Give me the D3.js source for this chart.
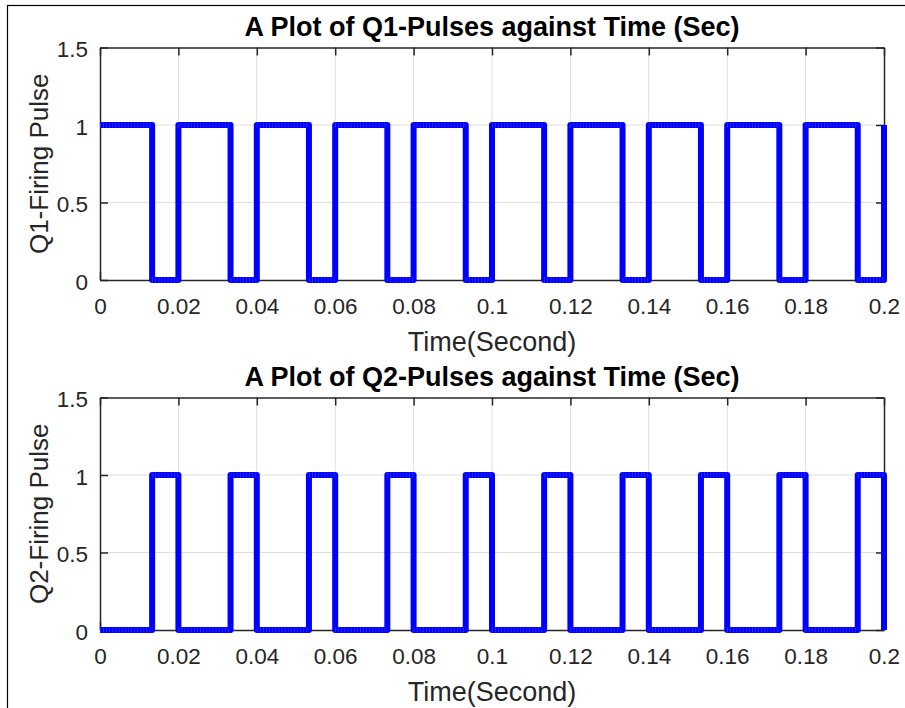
<!DOCTYPE html>
<html><head><meta charset="utf-8">
<script src="https://cdn.jsdelivr.net/npm/d3@7"></script>
<style>body{margin:0;background:#fff}svg{display:block}</style>
</head><body>
<svg id="c" width="905" height="708"></svg>
<script>
// ---- data ----
const edgeTimes = [0, 0.0133, 0.02, 0.0333, 0.04, 0.0533, 0.06, 0.0733, 0.08, 0.0933, 0.1,
                   0.1133, 0.12, 0.1333, 0.14, 0.1533, 0.16, 0.1733, 0.18, 0.1933, 0.2];
const q1Values = [1, 0, 1, 0, 1, 0, 1, 0, 1, 0, 1, 0, 1, 0, 1, 0, 1, 0, 1, 0, 1];
const q2Values = [0, 1, 0, 1, 0, 1, 0, 1, 0, 1, 0, 1, 0, 1, 0, 1, 0, 1, 0, 1, 0];
const xTicks = [0, 0.02, 0.04, 0.06, 0.08, 0.1, 0.12, 0.14, 0.16, 0.18, 0.2];
const xTickLabels = ["0", "0.02", "0.04", "0.06", "0.08", "0.1", "0.12", "0.14", "0.16", "0.18", "0.2"];
const yTicks = [0, 0.5, 1, 1.5];
const yTickLabels = ["0", "0.5", "1", "1.5"];
const panelTitles = ["A Plot of Q1-Pulses against Time (Sec)", "A Plot of Q2-Pulses against Time (Sec)"];
const panelYLabels = ["Q1-Firing Pulse", "Q2-Firing Pulse"];
const xLabelText = "Time(Second)";
const seriesValues = [q1Values, q2Values];

// ---- drawing ----
const svg = d3.select("#c");
const FONT = "'Liberation Sans', Arial, sans-serif";
const axisColor = "#262626";

// outer frame
svg.append("rect").attr("x", 7.5).attr("y", 5.5).attr("width", 1000).attr("height", 1000)
  .attr("fill", "#fff").attr("stroke", "#000").attr("stroke-width", 1.2);

const left = 100, right = 884;
const panels = [{top: 47.5, bottom: 280}, {top: 397.5, bottom: 630}];

panels.forEach((p, k) => {
  const x = d3.scaleLinear().domain([0, 0.2]).range([left, right]);
  const y = d3.scaleLinear().domain([0, 1.5]).range([p.bottom, p.top]);
  const g = svg.append("g");

  // grid
  g.append("g").selectAll("line").data(xTicks.slice(1, -1)).join("line")
    .attr("x1", d => x(d)).attr("x2", d => x(d)).attr("y1", p.top).attr("y2", p.bottom)
    .attr("stroke", "#dfdfdf").attr("stroke-width", 1);
  g.append("g").selectAll("line").data(yTicks.slice(1, -1)).join("line")
    .attr("y1", d => y(d)).attr("y2", d => y(d)).attr("x1", left).attr("x2", right)
    .attr("stroke", "#dfdfdf").attr("stroke-width", 1);

  // axes
  const fmtX = (d) => xTickLabels[xTicks.indexOf(d)];
  const fmtY = (d) => yTickLabels[yTicks.indexOf(d)];
  const styleAxis = sel => {
    sel.selectAll(".domain").attr("stroke", axisColor).attr("stroke-width", 1.5);
    sel.selectAll(".tick line").attr("stroke", axisColor).attr("stroke-width", 1.5);
    sel.selectAll(".tick text").attr("fill", axisColor).style("font-family", FONT).style("font-size", "22.5px");
  };
  g.append("g").attr("transform", `translate(0,${p.bottom})`)
    .call(d3.axisBottom(x).tickValues(xTicks).tickFormat(fmtX).tickSizeInner(-8).tickSizeOuter(0).tickPadding(18))
    .call(styleAxis);
  g.append("g").attr("transform", `translate(0,${p.top})`)
    .call(d3.axisTop(x).tickValues(xTicks).tickFormat("").tickSizeInner(-8).tickSizeOuter(0))
    .call(styleAxis);
  g.append("g").attr("transform", `translate(${left},0)`)
    .call(d3.axisLeft(y).tickValues(yTicks).tickFormat(fmtY).tickSizeInner(-8).tickSizeOuter(0).tickPadding(12))
    .call(styleAxis)
    .selectAll(".tick text").attr("dy", "0.42em");
  g.append("g").attr("transform", `translate(${right},0)`)
    .call(d3.axisRight(y).tickValues(yTicks).tickFormat("").tickSizeInner(-8).tickSizeOuter(0))
    .call(styleAxis);

  // series line
  const pts = edgeTimes.map((t, i) => [t, seriesValues[k][i]]);
  const line = d3.line().x(d => x(d[0])).y(d => y(d[1])).curve(d3.curveStepAfter);
  g.append("path").datum(pts).attr("d", line)
    .attr("fill", "none").attr("stroke", "#0000ff").attr("stroke-width", 6)
    .attr("stroke-linejoin", "round").attr("stroke-linecap", "butt");
  // marker texture on horizontal runs
  const runs = pts.slice(0, -1).map((d, i) => [d, [pts[i + 1][0], d[1]]]);
  g.append("g").selectAll("line").data(runs).join("line")
    .attr("x1", d => x(d[0][0])).attr("x2", d => x(d[1][0]))
    .attr("y1", d => y(d[0][1])).attr("y2", d => y(d[1][1]))
    .attr("stroke", "#3030ff").attr("stroke-width", 5).attr("stroke-dasharray", "0.8 2.3");

  // title
  g.append("text").attr("x", (left + right) / 2).attr("y", p.top - 12)
    .attr("text-anchor", "middle").style("font-family", FONT).style("font-size", "27px")
    .style("font-weight", "bold").attr("fill", "#000").text(panelTitles[k]);
  // x label
  g.append("text").attr("x", (left + right) / 2).attr("y", p.bottom + 71)
    .attr("text-anchor", "middle").style("font-family", FONT).style("font-size", "27px")
    .attr("fill", axisColor).text(xLabelText);
  // y label
  g.append("text").attr("transform", `translate(48,${(p.top + p.bottom) / 2}) rotate(-90)`)
    .attr("text-anchor", "middle").style("font-family", FONT).style("font-size", "26px")
    .attr("fill", axisColor).text(panelYLabels[k]);
});
</script>
</body></html>
